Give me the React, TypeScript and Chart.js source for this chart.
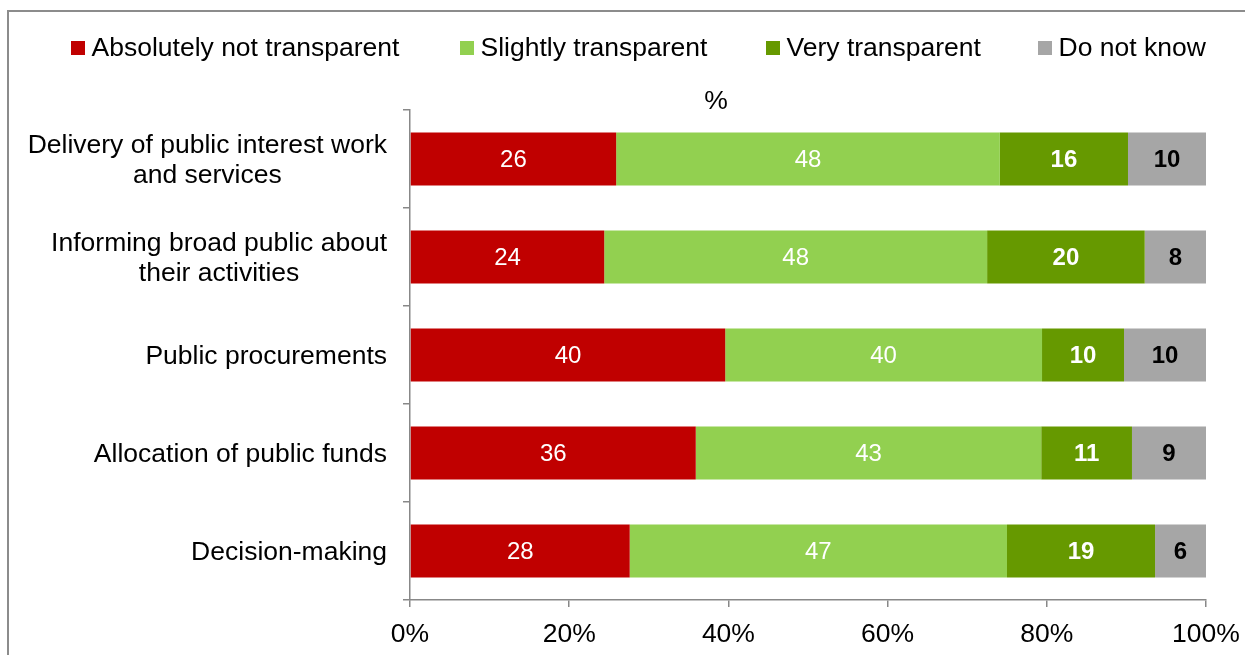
import React, { useEffect, useRef } from "react";
import { Chart, registerables } from "chart.js";

Chart.register(...registerables);

// ---- Data ----
const categories: string[][] = [
  ["Delivery of public interest work", "and services"],
  ["Informing broad public about", "their activities"],
  ["Public procurements"],
  ["Allocation of public funds"],
  ["Decision-making"],
];
const seriesNames = [
  "Absolutely not transparent",
  "Slightly transparent",
  "Very transparent",
  "Do not know",
];
const absolutelyNot = [25.9, 24.4, 39.6, 35.9, 27.6];
const slightly = [48.2, 48.1, 39.8, 43.4, 47.4];
const very = [16.1, 19.8, 10.3, 11.4, 18.6];
const doNotKnow = [9.8, 7.7, 10.3, 9.3, 6.4];
const xTickValues = [0, 20, 40, 60, 80, 100];
const chartTitle = "%";

// ---- Styles ----
const FONT = "'Liberation Sans', Arial, sans-serif";
const colors = ["#C00000", "#92D050", "#669900", "#A6A6A6"];
const labelColors = ["#FFFFFF", "#FFFFFF", "#FFFFFF", "#000000"];
const labelWeights = ["normal", "normal", "bold", "bold"];
const legendStarts = [71, 460, 766, 1038];
const AXIS = "#888888";

const overlayPlugin = {
  id: "overlay",
  beforeDraw(chart: any) {
    const ctx = chart.ctx;
    ctx.save();
    ctx.strokeStyle = "#8C8C8C";
    ctx.lineWidth = 2;
    ctx.beginPath();
    ctx.moveTo(8, 660);
    ctx.lineTo(8, 11);
    ctx.lineTo(1260, 11);
    ctx.stroke();
    ctx.restore();
  },
  afterDraw(chart: any) {
    const ctx = chart.ctx;
    ctx.save();
    // legend
    ctx.font = `26.5px ${FONT}`;
    ctx.textBaseline = "middle";
    ctx.textAlign = "left";
    seriesNames.forEach((name, i) => {
      const x = legendStarts[i];
      ctx.fillStyle = colors[i];
      ctx.fillRect(x, 41, 14, 14);
      ctx.fillStyle = "#000";
      ctx.fillText(name, x + 20.5, 49);
    });
    // title
    ctx.textAlign = "center";
    ctx.fillText(chartTitle, 716, 102);
    // y category labels: block right-aligned, lines centered
    const yScale = chart.scales.y;
    const lineH = 30;
    const rightEdge = yScale.right - 23;
    categories.forEach((lines, i) => {
      const cy = yScale.getPixelForValue(i);
      const maxW = Math.max(...lines.map((l) => ctx.measureText(l).width));
      const cx = rightEdge - maxW / 2;
      const startY = cy - ((lines.length - 1) * lineH) / 2;
      lines.forEach((l, j) => {
        ctx.fillText(l, cx, startY + j * lineH + 1.5);
      });
    });
    ctx.restore();
  },
  afterDatasetsDraw(chart: any) {
    const ctx = chart.ctx;
    ctx.save();
    ctx.textAlign = "center";
    ctx.textBaseline = "middle";
    chart.data.datasets.forEach((ds: any, di: number) => {
      const meta = chart.getDatasetMeta(di);
      ctx.font = `${labelWeights[di]} 24px ${FONT}`;
      ctx.fillStyle = labelColors[di];
      meta.data.forEach((el: any, i: number) => {
        const v = ds.data[i];
        const cx = (el.x + el.base) / 2;
        ctx.fillText(String(Math.round(v)), cx, el.y + 1);
      });
    });
    ctx.restore();
  },
};

export default function App() {
  const ref = useRef<HTMLCanvasElement | null>(null);
  useEffect(() => {
    document.body.style.margin = "0";
    const canvas = ref.current!;
    const chart = new Chart(canvas, {
      type: "bar",
      data: {
        labels: categories.map((c) => c.join(" ")),
        datasets: [absolutelyNot, slightly, very, doNotKnow].map((d, i) => ({
          label: seriesNames[i],
          data: d,
          backgroundColor: colors[i],
          borderWidth: 0,
          barPercentage: 0.54,
          categoryPercentage: 1,
        })),
      },
      options: {
        indexAxis: "y",
        responsive: false,
        animation: false,
        maintainAspectRatio: false,
        layout: { padding: { top: 110, right: 39, left: 0, bottom: 0 } },
        plugins: {
          legend: { display: false },
          title: { display: false },
          tooltip: { enabled: false },
        },
        scales: {
          x: {
            type: "linear",
            stacked: true,
            min: 0,
            max: 100,
            afterBuildTicks: (s: any) => {
              s.ticks = xTickValues.map((v) => ({ value: v }));
            },
            afterFit: (s: any) => {
              s.height = 55;
              s.paddingRight = 0;
              s.paddingLeft = 0;
            },
            ticks: {
              callback: (v: any) => v + "%",
              color: "#000",
              padding: 12,
              maxRotation: 0,
              font: { family: FONT, size: 26.5 },
            },
            grid: {
              drawOnChartArea: false,
              drawTicks: true,
              tickLength: 7,
              color: AXIS,
              lineWidth: 1.5,
            },
            border: { color: AXIS, width: 1.5 },
          },
          y: {
            type: "category",
            stacked: true,
            afterFit: (s: any) => {
              s.width = 410;
            },
            ticks: { display: false },
            grid: {
              offset: true,
              drawOnChartArea: false,
              drawTicks: true,
              tickLength: 7,
              color: AXIS,
              lineWidth: 1.5,
            },
            border: { color: AXIS, width: 1.5 },
          },
        },
      },
      plugins: [overlayPlugin],
    });
    return () => chart.destroy();
  }, []);
  return (
    <canvas
      ref={ref}
      width={1245}
      height={655}
      style={{ display: "block", width: 1245, height: 655 }}
    />
  );
}
